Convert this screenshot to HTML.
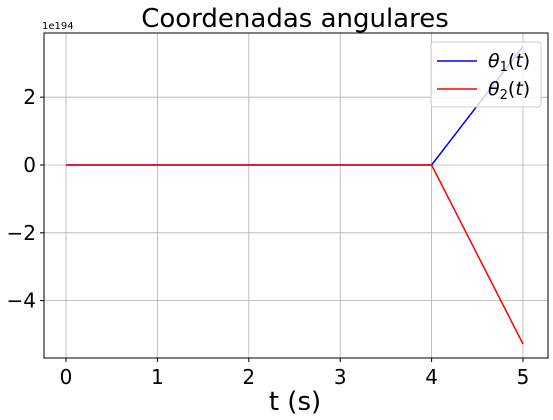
<!DOCTYPE html>
<html><head><meta charset="utf-8"><style>
body{margin:0;background:#fff;}
svg{display:block;font-family:"DejaVu Sans","Liberation Sans",sans-serif;}
</style></head><body>
<svg id="chart" width="553" height="420">
<text x="295" y="27" font-size="26" text-anchor="middle">Coordenadas angulares</text>
<text x="42" y="29" font-size="10">1e194</text>
<g id="grid"></g>
<g id="series"></g>
<rect x="44" y="33" width="504" height="325" fill="none" stroke="#000" stroke-width="1"/>
<g id="ticks"></g>
<text x="295" y="410" font-size="26" text-anchor="middle">t (s)</text>
<g>
<rect x="431" y="42" width="110" height="65" rx="3" fill="#fff" fill-opacity="0.8" stroke="#ccc"/>
<line x1="437" y1="61" x2="477" y2="61" stroke="#00f" stroke-width="1.5"/>
<text x="488" y="67" font-size="19"><tspan font-style="italic">θ</tspan><tspan font-size="13" dy="4">1</tspan><tspan dy="-4">(</tspan><tspan font-style="italic">t</tspan>)</text>
<line x1="437" y1="89" x2="477" y2="89" stroke="#f00" stroke-width="1.5"/>
<text x="488" y="95" font-size="19"><tspan font-style="italic">θ</tspan><tspan font-size="13" dy="4">2</tspan><tspan dy="-4">(</tspan><tspan font-style="italic">t</tspan>)</text>
</g>
</svg>
<script>
const times = [0, 1, 2, 3, 4, 5];
const theta1 = [0, 0, 0, 0, 0, 3.5];
const theta2 = [0, 0, 0, 0, 0, -5.28];
const xTicks = [0, 1, 2, 3, 4, 5];
const yTicks = [-4, -2, 0, 2];

const NS = "http://www.w3.org/2000/svg";
const xs = t => 66 + t * 91.4;
const ys = v => 165 - v * 33.9;
const grid = document.getElementById('grid');
const ticks = document.getElementById('ticks');
const series = document.getElementById('series');
function mk(tag, attrs, parent) {
  const e = document.createElementNS(NS, tag);
  for (const k in attrs) e.setAttribute(k, attrs[k]);
  parent.appendChild(e);
  return e;
}
xTicks.forEach(t => {
  const g = mk('line', {x1: xs(t), x2: xs(t), y1: 33, y2: 358, stroke: '#b0b0b0', 'stroke-width': 0.8}, grid);
  
  
  const tk = mk('line', {x1: xs(t), x2: xs(t), y1: 358, y2: 362, stroke: '#000'}, ticks);
  
  
  const lb = mk('text', {x: xs(t), y: 384, 'font-size': 20, 'text-anchor': 'middle'}, ticks);
  lb.textContent = String(t);
  
  
});
yTicks.forEach(v => {
  const g = mk('line', {x1: 44, x2: 548, y1: ys(v), y2: ys(v), stroke: '#b0b0b0', 'stroke-width': 0.8}, grid);
  
  
  const tk = mk('line', {x1: 40, x2: 44, y1: ys(v), y2: ys(v), stroke: '#000'}, ticks);
  
  
  const lb = mk('text', {x: 36, y: ys(v) + 7, 'font-size': 20, 'text-anchor': 'end'}, ticks);
  lb.textContent = v < 0 ? '\u2212' + Math.abs(v) : String(v);
  
  
});
function line(vals, color, name, op) {
  const pts = times.map((t, i) => xs(t) + ',' + ys(vals[i])).join(' ');
  const p = mk('polyline', {points: pts, fill: 'none', stroke: color, 'stroke-width': 1.5, 'stroke-opacity': op}, series);
  
  
}
line(theta1, '#0000ff', 'theta1-line', 1);
line(theta2, '#ff0000', 'theta2-line', 1);
</script>
</body></html>
